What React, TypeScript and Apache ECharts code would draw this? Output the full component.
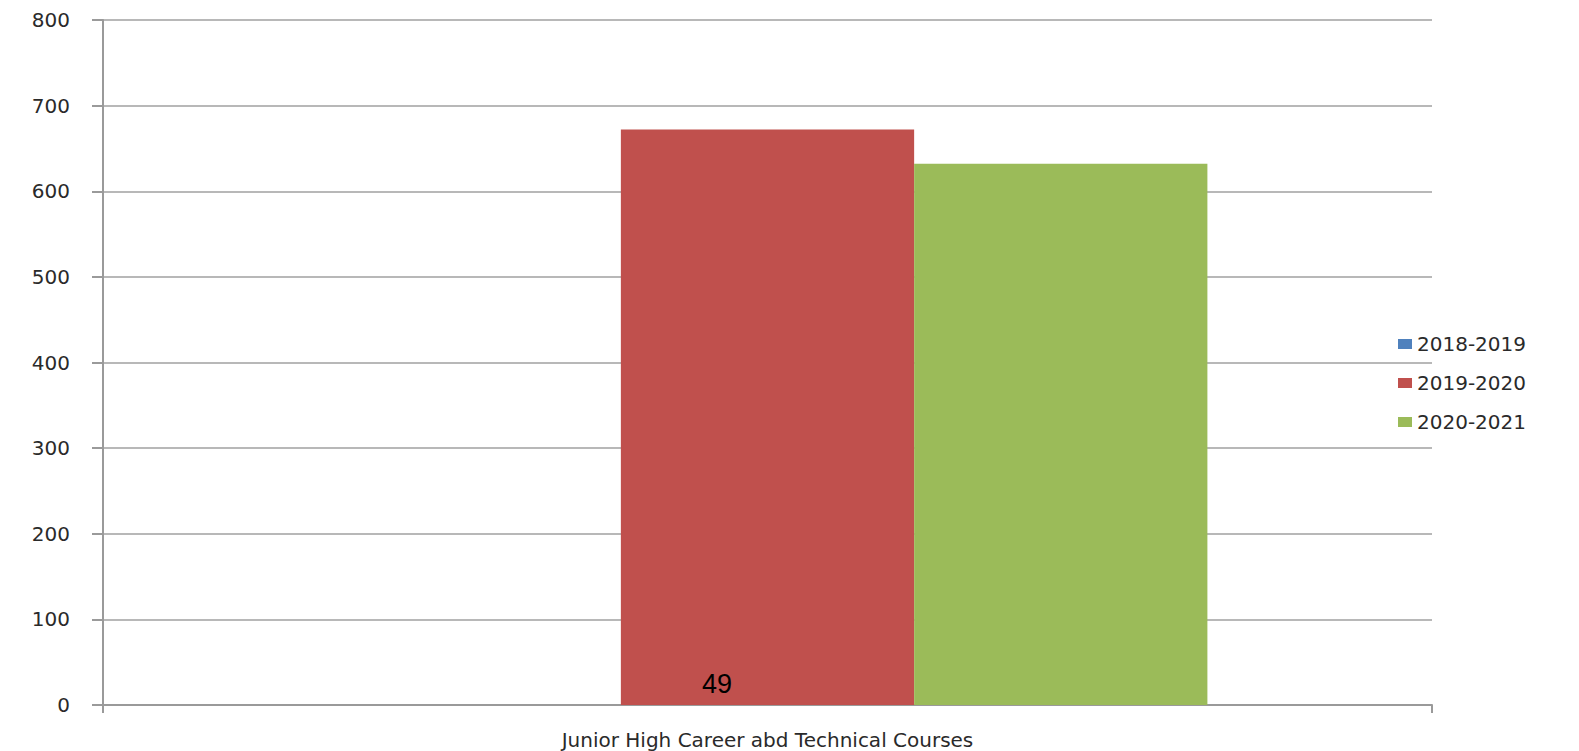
import React, { useEffect, useRef } from "react";
import * as echarts from "echarts";

const categories = ["Junior High Career abd Technical Courses"];
const seriesNames = ["2018-2019", "2019-2020", "2020-2021"];
const values2018 = [0];
const values2019 = [672];
const values2020 = [632];
const colors = ["#4F81BD", "#C0504D", "#9BBB59"];
const pageNumber = "49";

export default function App() {
  const ref = useRef<HTMLDivElement>(null);
  useEffect(() => {
    if (!ref.current) return;
    const chart = echarts.init(ref.current, undefined, { renderer: "svg" });
    const font = "'DejaVu Sans', Verdana, sans-serif";
    const seriesData = [values2018, values2019, values2020];
    chart.setOption({
      animation: false,
      backgroundColor: "#ffffff",
      color: colors,
      grid: { left: 103, right: 147, top: 20, bottom: 46, containLabel: false },
      legend: {
        orient: "vertical",
        left: 1393,
        top: 329,
        itemWidth: 14,
        itemHeight: 10,
        itemGap: 19,
        icon: "rect",
        data: seriesNames,
        textStyle: { fontFamily: font, fontSize: 20, color: "#2a2a2a", lineHeight: 20 },
      },
      xAxis: {
        type: "category",
        data: categories,
        axisLine: { show: true, lineStyle: { color: "#9a9a9a", width: 2 } },
        axisTick: { show: true, length: 8, alignWithLabel: false, lineStyle: { color: "#9a9a9a", width: 2 } },
        axisLabel: { margin: 25, fontFamily: font, fontSize: 20, color: "#2a2a2a" },
      },
      yAxis: {
        type: "value",
        min: 0,
        max: 800,
        interval: 100,
        axisLine: { show: true, lineStyle: { color: "#9a9a9a", width: 2 } },
        axisTick: { show: true, length: 11, lineStyle: { color: "#9a9a9a", width: 2 } },
        axisLabel: { margin: 33, fontFamily: font, fontSize: 20, color: "#2a2a2a" },
        splitLine: { show: true, lineStyle: { color: "#a0a0a0", width: 1.5 } },
      },
      series: seriesNames.map((name, i) => ({
        name,
        type: "bar",
        data: seriesData[i],
        barGap: "0%",
        barCategoryGap: "33.8%",
        itemStyle: { color: colors[i] },
      })),
      graphic: [
        {
          type: "text",
          left: 702,
          top: 670,
          z: 100,
          style: {
            text: pageNumber,
            fontFamily: "'Liberation Sans', Arial, sans-serif",
            fontSize: 27,
            fill: "#000000",
          },
        },
      ],
    });
    return () => chart.dispose();
  }, []);
  return (
    <div
      ref={ref}
      style={{ position: "fixed", left: 0, top: 0, width: 1579, height: 751 }}
    />
  );
}
